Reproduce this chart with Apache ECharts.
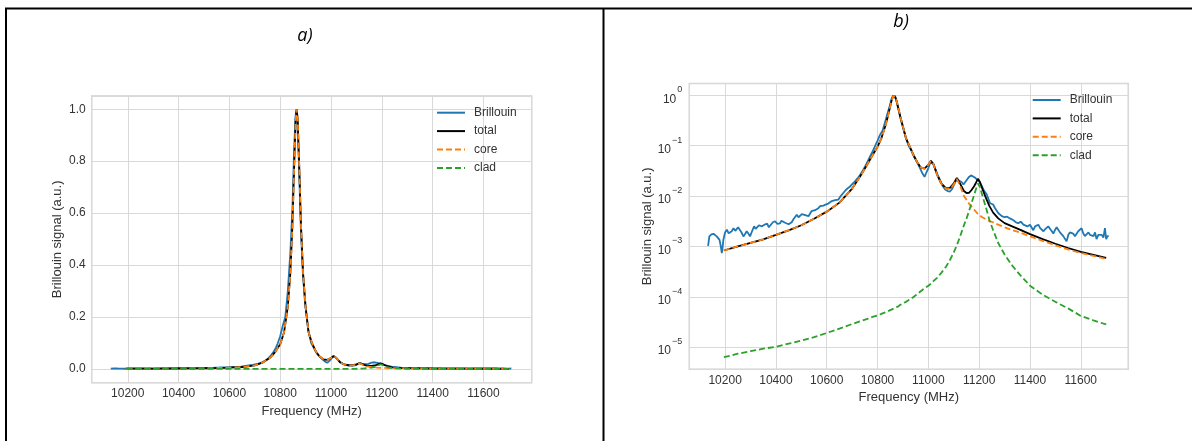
<!DOCTYPE html>
<html><head><meta charset="utf-8">
<script src="https://cdn.jsdelivr.net/npm/echarts@6/dist/echarts.min.js"></script>
<style>html,body{margin:0;padding:0;background:#fff}#c{width:1192px;height:441px}</style>
</head><body><div id="c"></div>
<script>
// ---- tick labels ----
const xTicks = [10200, 10400, 10600, 10800, 11000, 11200, 11400, 11600];
const yTicksLinear = [0.0, 0.2, 0.4, 0.6, 0.8, 1.0];
const yTicksLogExp = [-5, -4, -3, -2, -1, 0];
const seriesNames = ['Brillouin', 'total', 'core', 'clad'];

// ---- measured Brillouin spectrum ----
const brillouinFreq = [10133,10138,10146,10154,10160,10167,10173,10178,10183,10187,10190,10193,10200,10207,10214,10220,10226,10233,10240,10246,10251,10256,10264,10272,10278,10285,10292,10298,10306,10314,10320,10327,10333,10338,10345,10351,10358,10366,10372,10379,10388,10397,10405,10416,10422,10429,10436,10443,10450,10456,10462,10469,10476,10482,10489,10495,10502,10508,10515,10522,10528,10534,10540,10547,10554,10560,10567,10574,10580,10587,10595,10600,10606,10613,10620,10626,10633,10640,10646,10655,10665,10675,10684,10692,10701,10711,10721,10731,10741,10751,10761,10771,10781,10790,10800,10810,10820,10830,10840,10848,10855,10860,10864,10868,10874,10881,10889,10898,10910,10922,10934,10945,10954,10967,10977,10985,10993,11000,11008,11013,11020,11026,11036,11046,11056,11066,11076,11085,11092,11098,11106,11114,11122,11131,11138,11145,11151,11160,11168,11175,11183,11191,11200,11210,11220,11229,11243,11255,11262,11275,11289,11300,11310,11321,11335,11345,11354,11364,11374,11380,11390,11400,11407,11413,11420,11427,11433,11440,11447,11453,11460,11466,11472,11480,11486,11492,11498,11505,11512,11518,11525,11531,11538,11544,11551,11557,11564,11570,11577,11584,11590,11597,11603,11610,11616,11623,11630,11636,11643,11650,11656,11662,11669,11675,11682,11689,11695,11700,11705,11710];
const brillouinSignal = [0.00102,0.00158,0.00174,0.00178,0.00191,0.00158,0.00151,0.00135,0.00100,0.00074,0.00095,0.00135,0.00191,0.00214,0.00182,0.00170,0.00200,0.00229,0.00204,0.00214,0.00240,0.00257,0.00191,0.00158,0.00174,0.00200,0.00178,0.00158,0.00200,0.00251,0.00224,0.00214,0.00263,0.00288,0.00251,0.00251,0.00275,0.00282,0.00240,0.00251,0.00302,0.00316,0.00282,0.00288,0.00324,0.00339,0.00295,0.00302,0.00275,0.00251,0.00302,0.00347,0.00380,0.00427,0.00380,0.00398,0.00437,0.00407,0.00417,0.00437,0.00398,0.00380,0.00501,0.00537,0.00525,0.00575,0.00575,0.00631,0.00603,0.00646,0.00676,0.00661,0.00708,0.00759,0.00794,0.00813,0.00832,0.00871,0.00851,0.0100,0.0115,0.0132,0.0145,0.0155,0.0174,0.0195,0.0224,0.0263,0.0316,0.0389,0.0490,0.0617,0.0776,0.0977,0.126,0.166,0.20,0.30,0.45,0.62,0.85,0.97,1.00,0.95,0.78,0.55,0.37,0.25,0.15,0.10,0.078,0.058,0.049,0.036,0.028,0.024,0.030,0.036,0.047,0.049,0.043,0.036,0.027,0.021,0.016,0.0135,0.0126,0.0123,0.0135,0.0145,0.0190,0.0219,0.0200,0.0190,0.0170,0.0185,0.0209,0.0240,0.0257,0.0252,0.0234,0.0215,0.0195,0.0160,0.0125,0.0110,0.0072,0.0068,0.0058,0.0046,0.0040,0.0038,0.0039,0.0036,0.0033,0.0030,0.0029,0.0031,0.0027,0.0028,0.0025,0.0027,0.0025,0.0021,0.0025,0.0026,0.0027,0.0023,0.0021,0.0020,0.0022,0.0024,0.0025,0.0022,0.0020,0.0018,0.0021,0.0024,0.0023,0.0019,0.0018,0.0016,0.0017,0.00126,0.0017,0.0019,0.0020,0.0018,0.0016,0.0017,0.0020,0.0021,0.0023,0.0018,0.0016,0.0016,0.0019,0.0017,0.0018,0.0016,0.0019,0.0014,0.0017,0.0016,0.0017,0.0015,0.0023,0.0014,0.0016,0.0016];

// ---- fitted model curves ----
const modelFreq = [10195,10250,10300,10350,10400,10450,10500,10550,10600,10650,10700,10730,10760,10780,10800,10815,10830,10840,10848,10855,10861,10865,10869,10875,10882,10890,10900,10912,10925,10940,10955,10970,10985,11000,11010,11020,11035,11050,11070,11085,11100,11112,11125,11140,11150,11160,11170,11180,11187,11195,11203,11212,11225,11240,11255,11275,11300,11330,11360,11400,11450,11500,11550,11600,11650,11700];
const coreFit = [0.00083,0.00100,0.00117,0.00138,0.00170,0.00209,0.00263,0.00355,0.00490,0.00741,0.0141,0.0240,0.0427,0.0646,0.0955,0.14,0.24,0.37,0.55,0.78,0.96,1.00,0.96,0.78,0.55,0.37,0.24,0.14,0.10,0.068,0.048,0.037,0.035,0.042,0.050,0.043,0.026,0.018,0.0138,0.0140,0.0170,0.0220,0.0160,0.0100,0.0085,0.0071,0.0062,0.0054,0.0049,0.0044,0.0041,0.0038,0.0035,0.0032,0.0030,0.0027,0.0024,0.0021,0.0019,0.00158,0.00129,0.00105,0.00087,0.00074,0.00065,0.00056];
const cladFit = [6.3e-6,7.4e-6,8.3e-6,9.3e-6,1.02e-5,1.17e-5,1.35e-5,1.58e-5,1.91e-5,2.34e-5,2.88e-5,3.24e-5,3.63e-5,3.98e-5,4.27e-5,4.57e-5,4.90e-5,5.13e-5,5.37e-5,5.62e-5,5.75e-5,5.89e-5,6.03e-5,6.17e-5,6.46e-5,6.92e-5,7.41e-5,7.94e-5,8.71e-5,9.77e-5,1.12e-4,1.29e-4,1.48e-4,1.66e-4,1.82e-4,2.04e-4,2.40e-4,2.95e-4,3.98e-4,5.37e-4,7.59e-4,1.05e-3,1.58e-3,2.63e-3,3.55e-3,5.01e-3,7.24e-3,1.05e-2,1.35e-2,1.78e-2,1.51e-2,1.05e-2,6.31e-3,3.39e-3,2.09e-3,1.17e-3,6.92e-4,4.17e-4,2.75e-4,1.66e-4,1.10e-4,7.94e-5,5.89e-5,4.17e-5,3.39e-5,2.82e-5];
const totalFit = [0.00083,0.00100,0.00117,0.00138,0.00170,0.00209,0.00263,0.00355,0.00490,0.00741,0.0141,0.0240,0.0427,0.0646,0.0955,0.14,0.24,0.37,0.55,0.78,0.96,1.00,0.96,0.78,0.55,0.37,0.24,0.14,0.10,0.068,0.048,0.037,0.035,0.042,0.050,0.043,0.026,0.018,0.0142,0.0145,0.0178,0.0230,0.0176,0.0126,0.0115,0.0116,0.0132,0.0157,0.0182,0.0220,0.0190,0.0142,0.0096,0.0064,0.0047,0.0036,0.0029,0.0025,0.00216,0.00175,0.00140,0.00113,0.00093,0.00078,0.00068,0.00059];

const FONT = 'Liberation Sans, Arial, sans-serif';
const TXT = '#333333';
const GRIDC = '#d9d9d9';

function pts(xs, ys) { return xs.map((x, i) => [x, ys[i]]); }
function fmtX(v) {
  const r = Math.round(v);
  return (Math.abs(v - r) < 1e-6 && xTicks.indexOf(r) >= 0) ? String(r) : '';
}
function fmtYLin(v) {
  const t = yTicksLinear.find(t => Math.abs(t - v) < 1e-6);
  return t === undefined ? '' : t.toFixed(1);
}
function fmtYLog(v) {
  const e = Math.log10(v), r = Math.round(e);
  if (Math.abs(e - r) > 1e-6 || yTicksLogExp.indexOf(r) < 0) return '';
  return '{b|10}{s|' + (r < 0 ? '\u2212' : '') + Math.abs(r) + '}';
}

const grids = [
  { left: 91.7, top: 96, width: 440, height: 286.7 },
  { left: 689.3, top: 83.5, width: 439, height: 285.8 }
];

function xAxisFor(i, min, max) {
  return {
    type: 'value', gridIndex: i, min: min, max: max,
    splitNumber: 8, minInterval: 200, maxInterval: 200,
    axisLine: { show: false }, axisTick: { show: false },
    splitLine: { show: true, lineStyle: { color: GRIDC, width: 1 } },
    axisLabel: { formatter: fmtX, fontSize: 12, color: TXT, margin: 5, fontFamily: FONT },
    name: 'Frequency (MHz)', nameLocation: 'middle', nameGap: 20,
    nameTextStyle: { fontSize: 13, color: TXT, fontFamily: FONT }
  };
}

const yAxes = [
  {
    type: 'value', gridIndex: 0, min: -0.053, max: 1.051,
    splitNumber: 5, minInterval: 0.2, maxInterval: 0.2,
    axisLine: { show: false }, axisTick: { show: false },
    splitLine: { show: true, lineStyle: { color: GRIDC, width: 1 } },
    axisLabel: { formatter: fmtYLin, fontSize: 12, color: TXT, margin: 6, fontFamily: FONT },
    name: 'Brillouin signal (a.u.)', nameLocation: 'middle', nameGap: 28,
    nameTextStyle: { fontSize: 13, color: TXT, fontFamily: FONT }
  },
  {
    type: 'log', logBase: 10, gridIndex: 1, min: Math.pow(10, -5.44), max: Math.pow(10, 0.235),
    axisLine: { show: false }, axisTick: { show: false }, minorTick: { show: false },
    splitLine: { show: true, lineStyle: { color: GRIDC, width: 1 } },
    axisLabel: {
      formatter: fmtYLog, color: TXT, margin: 7, fontFamily: FONT,
      rich: {
        b: { fontSize: 12, color: TXT, fontFamily: FONT, verticalAlign: 'bottom', lineHeight: 14 },
        s: { fontSize: 9, color: TXT, fontFamily: FONT, verticalAlign: 'top', lineHeight: 20, padding: [0, 0, 0, 1] }
      }
    },
    name: 'Brillouin signal (a.u.)', nameLocation: 'middle', nameGap: 28,
    nameTextStyle: { fontSize: 13, color: TXT, fontFamily: FONT }
  }
];

const styles = {
  Brillouin: { color: '#1f77b4', type: 'solid' },
  total: { color: '#000000', type: 'solid' },
  core: { color: '#ff7f0e', type: [6, 3] },
  clad: { color: '#2ca02c', type: [6, 3] }
};
const dataFor = {
  Brillouin: pts(brillouinFreq, brillouinSignal),
  total: pts(modelFreq, totalFit),
  core: pts(modelFreq, coreFit),
  clad: pts(modelFreq, cladFit)
};

const series = [];
[0, 1].forEach(i => {
  seriesNames.forEach((n, k) => {
    series.push({
      name: n, type: 'line', xAxisIndex: i, yAxisIndex: i,
      data: dataFor[n], symbol: 'none', showSymbol: false, smooth: false,
      lineStyle: { color: styles[n].color, width: 1.8, type: styles[n].type },
      itemStyle: { color: styles[n].color },
      z: 2 + k, animation: false
    });
  });
});

function legendFor(left, top) {
  return {
    orient: 'vertical', left: left, top: top, data: seriesNames,
    itemWidth: 28, itemHeight: 12, itemGap: 6.4, padding: 0,
    itemStyle: { opacity: 0 },
    textStyle: { fontSize: 12, color: TXT, fontFamily: FONT, padding: [0, 0, 0, 4], lineHeight: 12 },
    selectedMode: false
  };
}

const option = {
  animation: false,
  backgroundColor: '#ffffff',
  grid: grids.map(g => Object.assign({ show: true, borderColor: '#cfcfcf', borderWidth: 1.5, backgroundColor: 'transparent', containLabel: false }, g)),
  xAxis: [xAxisFor(0, 10058, 11790), xAxisFor(1, 10059, 11787)],
  yAxis: yAxes,
  legend: [legendFor(436, 106.7), legendFor(1031.7, 94)],
  series: series,
  graphic: [
    { type: 'line', shape: { x1: 5, y1: 8.5, x2: 1192, y2: 8.5 }, style: { stroke: '#000', lineWidth: 2 }, silent: true },
    { type: 'line', shape: { x1: 6, y1: 8, x2: 6, y2: 441 }, style: { stroke: '#000', lineWidth: 2 }, silent: true },
    { type: 'line', shape: { x1: 603.5, y1: 8, x2: 603.5, y2: 441 }, style: { stroke: '#000', lineWidth: 2 }, silent: true },
    { type: 'text', x: 305, y: 36, style: { text: 'a)', font: 'italic 18px "Open Sans", sans-serif', fill: '#000', textAlign: 'center', textVerticalAlign: 'middle' }, silent: true },
    { type: 'text', x: 901, y: 22, style: { text: 'b)', font: 'italic 18px "Open Sans", sans-serif', fill: '#000', textAlign: 'center', textVerticalAlign: 'middle' }, silent: true }
  ]
};

const chart = echarts.init(document.getElementById('c'), null, { renderer: 'canvas' });
chart.setOption(option);
</script>
</body></html>
